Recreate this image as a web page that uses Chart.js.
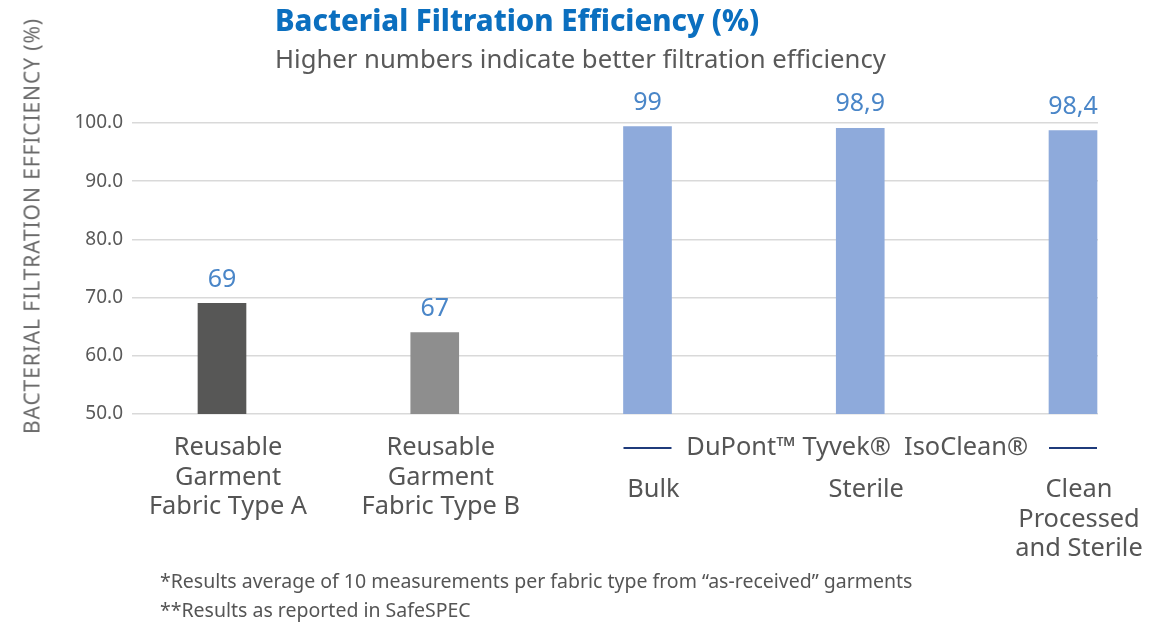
<!DOCTYPE html>
<html>
<head>
<meta charset="utf-8">
<script src="https://cdn.jsdelivr.net/npm/chart.js@4"></script>
<style>
  body { margin: 0; background: #fff; font-family: "Noto Sans", sans-serif; }
  #wrap { position: relative; width: 1165px; height: 622px; overflow: hidden; }
  #c { position: absolute; left: 0; top: 0; }
  .txt { position: absolute; white-space: nowrap; line-height: 1; }
  #title { left: 275px; top: 6px; font-size: 29.3px; font-weight: 800; color: #0b6fbf; }
  #subtitle { left: 275px; top: 46px; font-size: 25.7px; color: #595959; }
  #ytitle { left: 32px; top: 226px; font-size: 21px; letter-spacing: 0.9px; color: #6a6a6a;
            transform: translate(-50%, -50%) rotate(-90deg); }
  #note1 { left: 160px; top: 571px; font-size: 19.5px; color: #555; }
  #note2 { left: 160px; top: 600px; font-size: 19.5px; color: #555; }
</style>
</head>
<body>
<div id="wrap">
  <canvas id="c" width="1165" height="622"></canvas>
  <div class="txt" id="title">Bacterial Filtration Efficiency (%)</div>
  <div class="txt" id="subtitle">Higher numbers indicate better filtration efficiency</div>
  <div class="txt" id="ytitle">BACTERIAL FILTRATION EFFICIENCY (%)</div>
  <div class="txt" id="note1">*Results average of 10 measurements per fabric type from “as-received” garments</div>
  <div class="txt" id="note2">**Results as reported in SafeSPEC</div>
</div>
<script>
// chart data
const categories = [
  ["Reusable", "Garment", "Fabric Type A"],
  ["Reusable", "Garment", "Fabric Type B"],
  ["Bulk"],
  ["Sterile"],
  ["Clean", "Processed", "and Sterile"]
];
const barValues = [69, 64, 99.4, 99.1, 98.7];
const valueLabels = ["69", "67", "99", "98,9", "98,4"];
const barColors = ["#575756", "#8e8e8e", "#8eaadb", "#8eaadb", "#8eaadb"];
const groupLabel = "DuPont™ Tyvek®  IsoClean®";
const groupMembers = [2, 3, 4];

const extras = {
  id: 'extras',
  afterDatasetsDraw(chart) {
    const ctx = chart.ctx;
    const bars = chart.getDatasetMeta(0).data;
    const base = chart.chartArea.bottom;
    ctx.save();
    ctx.textAlign = 'center';
    ctx.textBaseline = 'middle';

    // value labels above bars
    ctx.font = '25px "Noto Sans"';
    ctx.fillStyle = '#4a86c8';
    bars.forEach((b, i) => ctx.fillText(valueLabels[i], b.x, b.y - 24));

    // category labels
    ctx.font = '25.4px "Noto Sans"';
    ctx.fillStyle = '#555';
    bars.forEach((b, i) => {
      const y0 = base + (groupMembers.includes(i) ? 76 : 34);
      categories[i].forEach((line, k) => ctx.fillText(line, b.x + 6, y0 + k * 29.5));
    });

    // group bracket
    const first = bars[groupMembers[0]];
    const last = bars[groupMembers[groupMembers.length - 1]];
    const mid = bars[groupMembers[1]];
    const gy = base + 34;
    ctx.strokeStyle = '#1f3b7b';
    ctx.lineWidth = 2;
    ctx.beginPath();
    ctx.moveTo(first.x - first.width / 2, gy);
    ctx.lineTo(first.x + first.width / 2, gy);
    ctx.moveTo(last.x - last.width / 2, gy);
    ctx.lineTo(last.x + last.width / 2, gy);
    ctx.stroke();
    ctx.fillText(groupLabel, mid.x - 3, gy);
    ctx.restore();
  }
};

new Chart(document.getElementById('c'), {
  type: 'bar',
  data: {
    datasets: [{
      data: barValues.map((v, i) => ({ x: i, y: v })),
      backgroundColor: barColors,
      barThickness: 48
    }]
  },
  options: {
    responsive: false,
    animation: false,
    layout: { padding: { top: 123, right: 67, bottom: 208, left: 0 } },
    plugins: { legend: { display: false }, tooltip: { enabled: false } },
    scales: {
      x: { type: 'linear', display: false, offset: false, min: -0.423, max: 4.1175 },
      y: {
        min: 50, max: 100,
        afterFit(s) { s.width = 132; },
        grid: { color: '#d9d9d9', lineWidth: 1.5, drawTicks: false },
        border: { display: false },
        ticks: {
          stepSize: 10, padding: 9, color: '#595959',
          font: { family: 'Noto Sans', size: 19 },
          callback: v => v.toFixed(1)
        }
      }
    }
  },
  plugins: [extras]
});
</script>
</body>
</html>
